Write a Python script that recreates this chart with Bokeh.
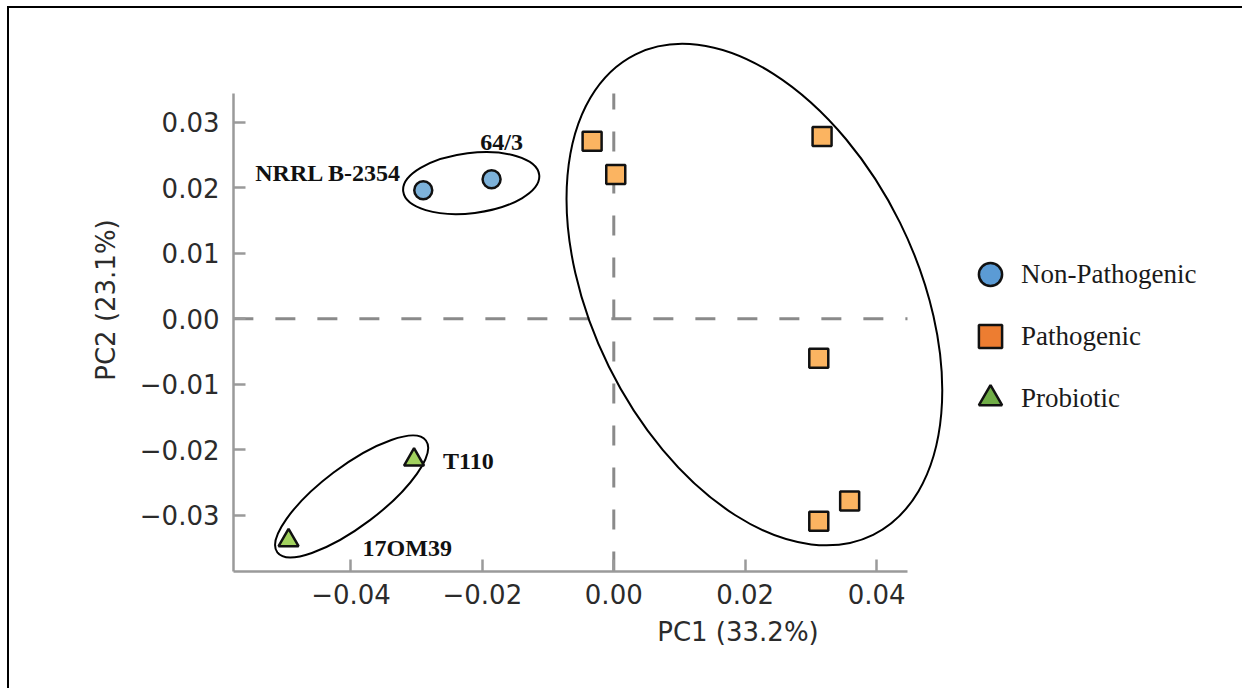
import math
from bokeh.plotting import figure
from bokeh.models import FixedTicker, Range1d, Legend, LegendItem
from bokeh.core.properties import value
from bokeh.embed import file_html
from bokeh.resources import INLINE

# ---------------- data ----------------
nonpath_names = ["NRRL B-2354", "64/3"]
nonpath_pc1 = [-0.0290, -0.0186]
nonpath_pc2 = [0.0196, 0.0213]

path_pc1 = [-0.0033, 0.0003, 0.0317, 0.0312, 0.0359, 0.0312]
path_pc2 = [0.0271, 0.0220, 0.0278, -0.0060, -0.0278, -0.0309]

probio_names = ["T110", "17OM39"]
probio_pc1 = [-0.0304, -0.0495]
probio_pc2 = [-0.0215, -0.0338]

legend_labels = ["Non-Pathogenic", "Pathogenic", "Probiotic"]
x_ticks = [-0.04, -0.02, 0.00, 0.02, 0.04]
y_ticks = [-0.03, -0.02, -0.01, 0.00, 0.01, 0.02, 0.03]
x_title = "PC1 (33.2%)"
y_title = "PC2 (23.1%)"

# cluster ellipses: centres (data units)
ell_pc1 = [-0.0217, -0.0399, 0.0214]
ell_pc2 = [0.0207, -0.0271, 0.0037]

# axis extents
X_LO, X_HI = -0.0579, 0.0447
Y_LO, Y_HI = -0.03855, 0.03437

# ---------------- figure ----------------
W, H = 1242, 688
p = figure(width=W, height=H, output_backend="svg", toolbar_location=None,
           x_range=Range1d(-0.05788, 0.09569), y_range=Range1d(-0.03855, 0.04429),
           min_border_left=233, min_border_right=0, min_border_top=28, min_border_bottom=117)
p.styles = {
    "background-color": "#ffffff",
    "background-image": "linear-gradient(#000000, #000000), linear-gradient(#000000, #000000)",
    "background-size": "2px 100%, 100% 2px",
    "background-position": "7px 6px, 7px 6px",
    "background-repeat": "no-repeat",
}
p.outline_line_color = None
p.grid.visible = False
p.background_fill_color = "white"
p.border_fill_color = None

AX_COL = "#9a9a9a"
for ax in (p.xaxis[0], p.yaxis[0]):
    ax.axis_line_color = AX_COL
    ax.axis_line_width = 2.5
    ax.major_tick_line_color = AX_COL
    ax.major_tick_line_width = 2.5
    ax.major_tick_in = 12
    ax.major_tick_out = 0
    ax.minor_tick_line_color = None
    ax.major_label_text_font = "DejaVu Sans"
    ax.major_label_text_font_size = "26px"
    ax.major_label_text_color = "#2b2b2b"
    ax.axis_label_text_font = "DejaVu Sans"
    ax.axis_label_text_font_size = "26px"
    ax.axis_label_text_font_style = "normal"
    ax.axis_label_text_color = "#2b2b2b"

def fmt(t):
    return f"{t:.2f}".replace("-", "\u2212")

p.xaxis.ticker = FixedTicker(ticks=x_ticks)
p.yaxis.ticker = FixedTicker(ticks=y_ticks)
p.xaxis.major_label_overrides = {t: fmt(t) for t in x_ticks}
p.yaxis.major_label_overrides = {t: fmt(t) for t in y_ticks}
p.xaxis.bounds = (X_LO, X_HI)
p.yaxis.bounds = (Y_LO, Y_HI)
p.xaxis.axis_label = x_title
p.yaxis.axis_label = y_title
p.xaxis.major_label_standoff = 12
p.yaxis.major_label_standoff = 14
p.xaxis.axis_label_standoff = 10
p.yaxis.axis_label_standoff = 16

# dashed zero lines
p.segment(x0=[X_LO], y0=[0], x1=[X_HI], y1=[0], line_color="#8a8a8a",
          line_width=3, line_dash="20 22")
p.segment(x0=[0], y0=[Y_LO], x1=[0], y1=[Y_HI], line_color="#8a8a8a",
          line_width=3, line_dash="20 22")

# cluster ellipses (sizes in screen px)
p.ellipse(x=ell_pc1, y=ell_pc2, width=[137, 186, 536], height=[60, 60, 325],
          angle=[math.radians(7), math.radians(37), math.radians(116.3)],
          width_units="screen", height_units="screen",
          fill_color=None, line_color="black", line_width=2)

# data points
p.scatter(nonpath_pc1, nonpath_pc2, marker="circle", size=18,
          fill_color="#7db2da", line_color="#111111", line_width=2.5)
p.scatter(path_pc1, path_pc2, marker="square", size=19,
          fill_color="#fbb461", line_color="#111111", line_width=2.5)
p.scatter(probio_pc1, probio_pc2, marker="triangle", size=20,
          fill_color="#a2d25f", line_color="#111111", line_width=2.5)

# point labels
lab_kw = dict(text_font=value("Liberation Serif"), text_font_style="bold",
              text_font_size="24px", text_color="#111111", text_baseline="middle")
p.text(x=[nonpath_pc1[0]], y=[nonpath_pc2[0]], text=[nonpath_names[0]],
       x_offset=-22, y_offset=-17, text_align="right", **lab_kw)
p.text(x=[nonpath_pc1[1]], y=[nonpath_pc2[1]], text=[nonpath_names[1]],
       x_offset=10, y_offset=-37, text_align="center", **lab_kw)
p.text(x=[probio_pc1[0]], y=[probio_pc2[0]], text=[probio_names[0]],
       x_offset=29, y_offset=1, text_align="left", **lab_kw)
p.text(x=[probio_pc1[1]], y=[probio_pc2[1]], text=[probio_names[1]],
       x_offset=74, y_offset=8, text_align="left", **lab_kw)

# legend (separate swatches, darker colours)
nan = float("nan")
r1 = p.scatter([nan], [nan], marker="circle", fill_color="#5b9bd5",
               line_color="#111111", line_width=2.5)
r2 = p.scatter([nan], [nan], marker="square", fill_color="#ed7d31",
               line_color="#111111", line_width=2.5)
r3 = p.scatter([nan], [nan], marker="triangle", fill_color="#70ad47",
               line_color="#111111", line_width=2.5)
legend = Legend(items=[LegendItem(label=legend_labels[0], renderers=[r1]),
                       LegendItem(label=legend_labels[1], renderers=[r2]),
                       LegendItem(label=legend_labels[2], renderers=[r3])],
                location=(728, 144), orientation="vertical",
                glyph_width=58, glyph_height=58, label_standoff=2, spacing=4,
                padding=0, margin=0, border_line_color=None,
                background_fill_alpha=0,
                label_text_font="Liberation Serif", label_text_font_size="27px",
                label_text_color="#1a1a1a")
p.add_layout(legend)

open("out.html", "w").write(file_html(p, INLINE))
